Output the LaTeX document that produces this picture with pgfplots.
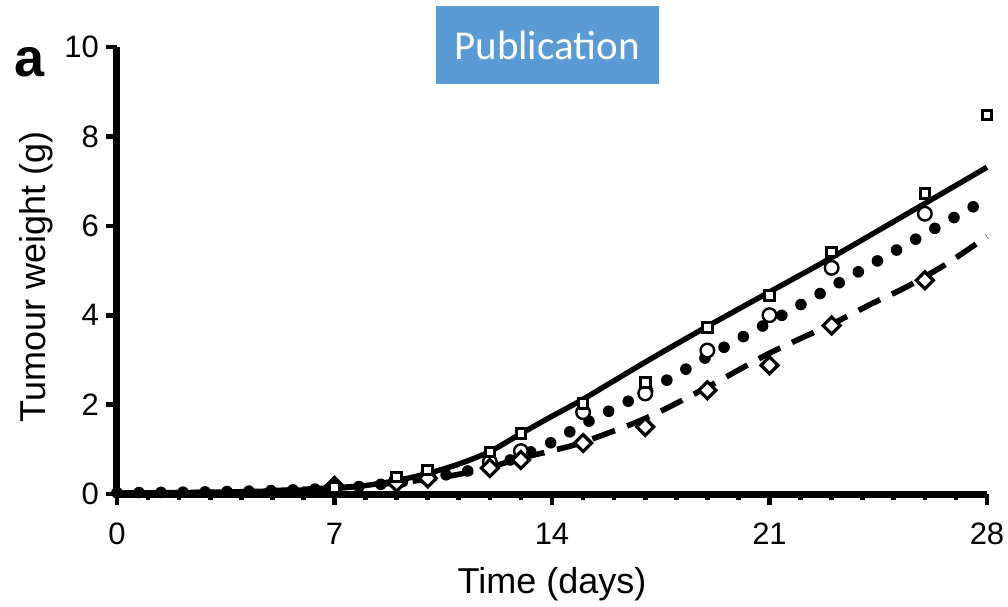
\documentclass[border=0pt]{standalone}
\usepackage{fontspec}
\setmainfont{Liberation Sans}
\newfontfamily\calibri{Carlito}
\usepackage{pgfplots}
\pgfplotsset{compat=1.18}
\definecolor{pubblue}{HTML}{5B9BD5}

\begin{document}
\begin{tikzpicture}
\path[use as bounding box] (-58.5pt,-56pt) rectangle (445.5pt,247pt);
\begin{axis}[
  at={(0,0)}, anchor=south west,
  scale only axis, width=435pt, height=223.5pt,
  xmin=0, xmax=28, ymin=0, ymax=10,
  axis x line=bottom, axis y line=left,
  axis line style={line width=3.5pt, -},
  xtick={0,7,14,21,28}, ytick={0,2,...,10},
  minor x tick num=6, minor y tick num=0,
  tick align=outside,
  major tick length=5.5pt, minor tick length=3pt,
  every tick/.style={black, line width=2.3pt},
  /pgf/number format/assume math mode=true,
  tick label style={font=\fontsize{15.5}{18}\selectfont},
  xticklabel style={yshift=-5.5pt},
  xlabel={Time (days)}, ylabel={Tumour weight (g)},
  label style={font=\fontsize{18}{21}\selectfont},
  xlabel style={at={(axis description cs:0.5,-0.2013)}, anchor=center},
  ylabel style={at={(axis description cs:-0.0925,0.4855)}, anchor=center},
  clip=false,
]
% model curves
\addplot[black, line width=2.7pt, smooth] coordinates {
  (0,0.02) (2,0.03) (4,0.05) (6,0.09) (7,0.12) (8,0.19) (9,0.3) (10,0.46)
  (11,0.67) (12,0.95) (13,1.35) (14,1.74) (15,2.12) (17,2.95) (19,3.75)
  (21,4.52) (23,5.29) (26,6.5) (28,7.31)};
\addplot[black, line width=5.8pt, line cap=round, dash pattern=on 0pt off 11pt, smooth] coordinates {
  (0,0.03) (2,0.04) (4,0.06) (6,0.1) (7,0.13) (8,0.18) (9,0.26) (10,0.36)
  (11,0.48) (12,0.61) (12.5,0.72) (13.8,1.09) (15,1.56) (16.3,2.02)
  (17.5,2.47) (19.35,3.21) (21.2,3.92) (23,4.63) (25.45,5.6) (28,6.6)};
\addplot[black, line width=2.8pt, dash pattern=on 12pt off 6.5pt, smooth] coordinates {
  (0,0.02) (4,0.05) (7,0.14) (8,0.19) (9,0.25) (10,0.33) (11,0.44) (12,0.6)
  (13,0.8) (14,0.97) (15,1.16) (17,1.69) (19,2.39) (21,3.15) (23,3.8)
  (24.3,4.26) (25.4,4.63) (26.7,5.15) (28,5.76)};
% measurements
\addplot[only marks, mark=*, mark size=3.4pt, mark options={draw=black, fill=white, line width=1.2pt}] coordinates {
  (7,0.14) (9,0.3) (10,0.42) (12,0.72) (13,0.96) (15,1.83) (17,2.25)
  (19,3.21) (21,4.0) (23,5.06) (26,6.27)};
\addplot[only marks, mark=square*, mark size=3pt, mark options={rotate=45, draw=black, fill=white, line width=1.6pt}] coordinates {
  (9,0.25) (10,0.35) (12,0.58) (13,0.76) (15,1.14) (17,1.5) (19,2.32)
  (21,2.88) (23,3.77) (26,4.78)};
\addplot[only marks, mark=square*, mark size=3pt, mark options={rotate=45, draw=black, fill=black, line width=1.6pt}] coordinates {
  (7,0.18)};
\addplot[only marks, mark=square*, mark size=2.4pt, mark options={draw=black, fill=white, line width=1.5pt}] coordinates {
  (7,0.15) (9,0.38) (10,0.54) (12,0.94) (13,1.36) (15,2.03) (17,2.5)
  (19,3.72) (21,4.44) (23,5.41) (26,6.72) (28,8.48)};
% panel letter and banner
\node[font=\fontsize{27}{30}\selectfont\bfseries] at (axis cs:-2.8,9.67) {a};
\node[fill=pubblue, text=white, font=\calibri\fontsize{20.5}{24}\selectfont,
      minimum width=111.5pt, minimum height=39pt, inner sep=0pt]
      at (axis cs:13.84,10.04) {Publication};
\end{axis}
\end{tikzpicture}
\end{document}
